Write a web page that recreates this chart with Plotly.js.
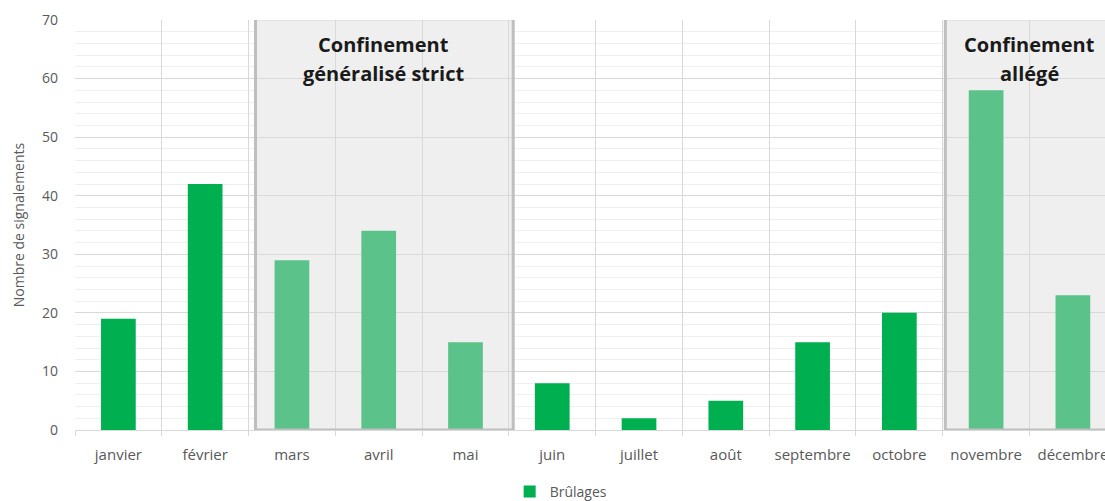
<!DOCTYPE html>
<html>
<head>
<meta charset="utf-8">
<script src="https://cdn.plot.ly/plotly-3.0.1.min.js"></script>
<style>html,body{margin:0;padding:0;overflow:hidden;background:#fff}</style>
</head>
<body>
<div id="chart" style="width:1105px;height:501px"></div>
<script>
const months = ["janvier","février","mars","avril","mai","juin","juillet","août","septembre","octobre","novembre","décembre"];
const signalements = [19,42,29,34,15,8,2,5,15,20,58,23];
const inLockdown = [false,false,true,true,true,false,false,false,false,false,true,true];
const seriesName = "Brûlages";
const lockdownLabels = [["Confinement","généralisé strict"],["Confinement","allégé"]];

const dark = "#00b050", light = "#5bc28a";
const colors = inLockdown.map(f => f ? light : dark);

const trace = {
  type: "bar", x: months, y: signalements, name: seriesName,
  marker: {color: colors}, showlegend: true, hoverinfo: "x+y"
};

const boxFill = "#efefef", boxLine = "#bfbfbf";
const boxes = [[1.58, 4.55], [9.53, 12]];
const shapes = [];
boxes.forEach(b => {
  shapes.push({type:"rect", xref:"x", yref:"y", x0:b[0], x1:b[1], y0:0, y1:70.2, fillcolor:boxFill, line:{width:0}, layer:"below"});
  shapes.push({type:"rect", xref:"x", yref:"y", x0:b[0], x1:b[1], y0:0, y1:70.2, fillcolor:"rgba(0,0,0,0)", line:{color:boxLine, width:3}, layer:"above"});
});

const annFont = {family:"Open Sans", size:20, color:"#1a1a1a", weight:700};
const annX = [3.06, 10.5];
const lineY = [44, 73];
const annotations = [];
lockdownLabels.forEach((lines, i) => {
  lines.forEach((t, j) => {
    annotations.push({xref:"x", yref:"paper", x:annX[i], y:(430-lineY[j])/410, yanchor:"middle", xanchor:"center", text:t, showarrow:false, font:annFont});
  });
});

const layout = {
  width: 1105, height: 501,
  margin: {l:75, r:0, t:20, b:71, autoexpand:false},
  paper_bgcolor:"#fff", plot_bgcolor:"#fff",
  bargap: 0.6,
  font: {family:"Open Sans", color:"#595959", size:14},
  xaxis: {
    type:"category", range:[-0.5, 11.37], tickson:"boundaries",
    showgrid:true, gridcolor:"#d9d9d9", gridwidth:1,
    ticks:"outside", ticklen:5, tickcolor:"#d9d9d9",
    showline:true, linecolor:"#d9d9d9", linewidth:1,
    tickfont:{size:15, color:"#595959"}, ticklabelstandoff:11, fixedrange:true, automargin:false
  },
  yaxis: {
    range:[0,70], dtick:10, showgrid:true, gridcolor:"#d9d9d9", gridwidth:1,
    minor:{dtick:2, showgrid:true, gridcolor:"#efefef", gridwidth:1},
    zeroline:false, tickfont:{size:14, color:"#595959"}, ticklabelstandoff:16,
    title:{text:"Nombre de signalements", font:{size:14, color:"#595959"}, standoff:14},
    fixedrange:true, automargin:false
  },
  legend: {orientation:"h", x:0.472, xanchor:"center", yref:"container", y:(501-492)/501, yanchor:"middle", font:{size:14, color:"#595959"}},
  shapes: shapes,
  annotations: annotations
};

Plotly.newPlot("chart", [trace], layout, {displayModeBar:false, staticPlot:true});
</script>
</body>
</html>
